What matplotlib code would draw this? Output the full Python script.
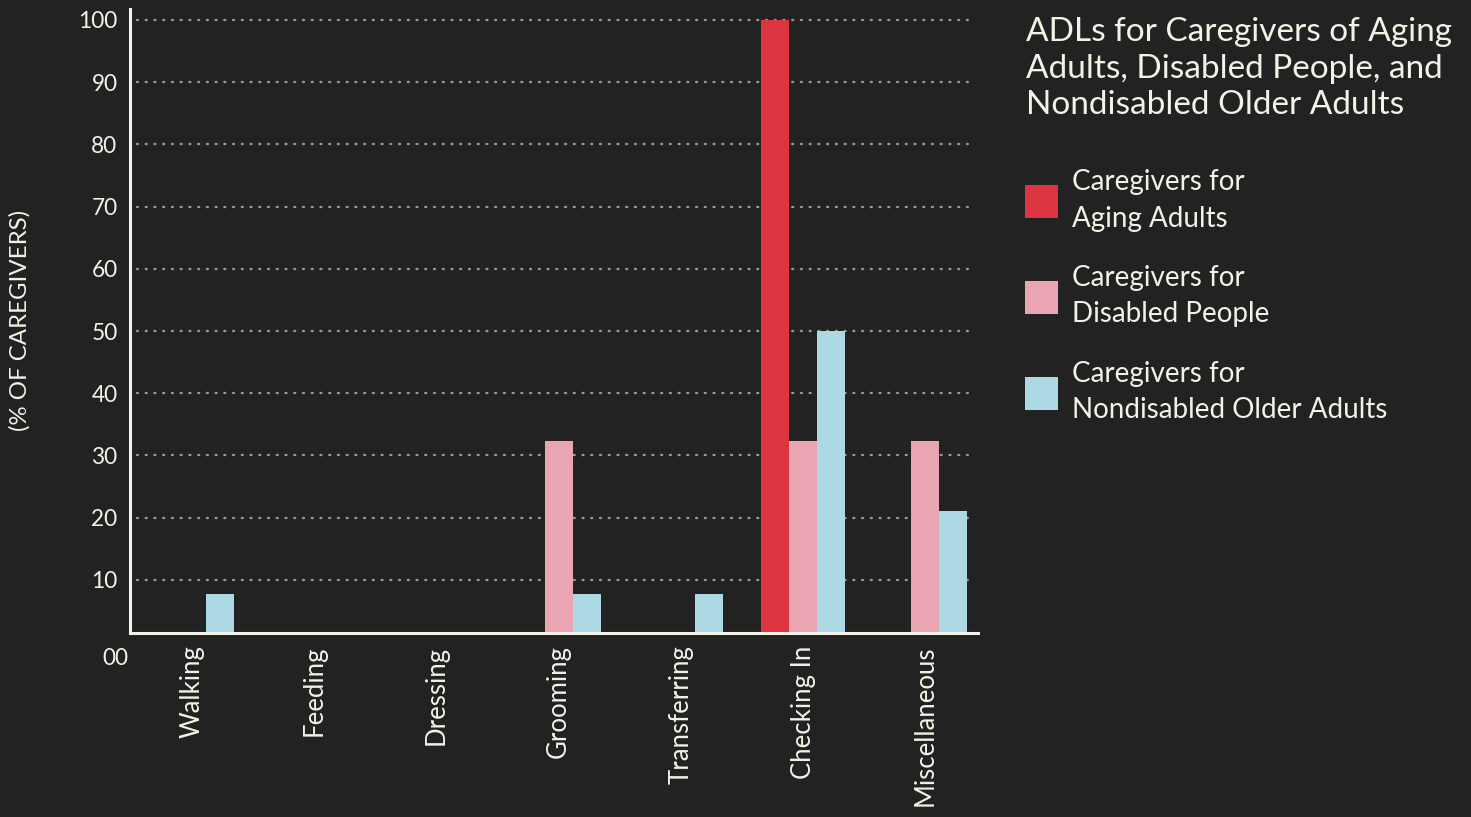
import matplotlib
matplotlib.use("Agg")
import matplotlib.pyplot as plt
import matplotlib.transforms as mtransforms
from matplotlib.patches import Patch
import numpy as np

# --- data -------------------------------------------------------------
activities = ["Walking", "Feeding", "Dressing", "Grooming",
              "Transferring", "Checking In", "Miscellaneous"]
aging_adults = [0, 0, 0, 0, 0, 100, 0]
disabled_people = [0, 0, 0, 32.3, 0, 32.3, 32.3]
nondisabled_older = [7.7, 0, 0, 7.7, 7.7, 50, 21]
series_labels = ["Caregivers for\nAging Adults",
                 "Caregivers for\nDisabled People",
                 "Caregivers for\nNondisabled Older Adults"]
y_ticks = [10, 20, 30, 40, 50, 60, 70, 80, 90, 100]
title = "ADLs for Caregivers of Aging\nAdults, Disabled People, and\nNondisabled Older Adults"
y_label = "(% OF CAREGIVERS)"

# --- style -------------------------------------------------------------
BG = "#222222"
FG = "#F2F2E6"
GRID = "#9a9a94"
COLORS = ["#DC3441", "#EAA5B2", "#ADD9E4"]
FONT = ["Lato", "DejaVu Sans"]
plt.rcParams["font.family"] = FONT

fig = plt.figure(figsize=(14.71, 8.17), dpi=100, facecolor=BG)
W, H = 1471, 817
ax = fig.add_axes([130 / W, 184 / H, (978 - 130) / W, (633 - 8.8) / H])
ax.set_facecolor(BG)

x = np.arange(len(activities))
bw = 0.229
for i, (vals, col) in enumerate(zip([aging_adults, disabled_people, nondisabled_older], COLORS)):
    ax.bar(x + (i - 1) * bw, vals, width=bw, color=col, zorder=3, linewidth=0)

ax.set_xlim(-0.507, 6.43)
ax.set_ylim(1.45, 101.8)

# dotted horizontal guides
for t in y_ticks:
    ax.plot([-0.45, 6.36], [t, t], color=GRID, linewidth=1.7,
            linestyle=(0, (0.4, 3.3)), dash_capstyle="round", zorder=1)

for side in ["top", "right"]:
    ax.spines[side].set_visible(False)
for side in ["left", "bottom"]:
    ax.spines[side].set_color(FG)
    ax.spines[side].set_linewidth(2.2)
    ax.spines[side].set_zorder(4)

ax.set_yticks(y_ticks)
ax.set_yticklabels([str(t) for t in y_ticks])
ax.tick_params(axis="y", length=0, pad=9, labelsize=16.3, labelcolor=FG)
ax.set_xticks(x)
ax.set_xticklabels(activities, rotation=90, va="top", ha="center")
ax.tick_params(axis="x", length=0, pad=9, labelsize=18.5, labelcolor=FG)

# zero label sits just under the baseline
trans = mtransforms.blended_transform_factory(ax.transAxes, ax.transData)
ax.text(-2 / 848, -2.7, "00", transform=trans, ha="right", va="center",
        fontsize=16.3, color=FG, clip_on=False)

fig.text(20 / W, 1 - 320 / H, y_label, rotation=90, ha="center", va="center",
         fontsize=17.3, color=FG)

fig.text(1026 / W, 1 - 17 / H, title, ha="left", va="top", fontsize=24,
         color=FG, linespacing=1.28)

handles = [Patch(facecolor=c, edgecolor="none") for c in COLORS]
leg = fig.legend(handles, series_labels, loc="upper left",
                 bbox_to_anchor=(1025 / W, 1 - 169 / H), frameon=False,
                 borderpad=0, borderaxespad=0,
                 fontsize=20, labelcolor=FG, handlelength=1.2, handleheight=1.46,
                 handletextpad=0.5, labelspacing=1.2)
for txt in leg.get_texts():
    txt.set_linespacing(1.5)

fig.savefig("out.png", dpi=100, facecolor=BG)
